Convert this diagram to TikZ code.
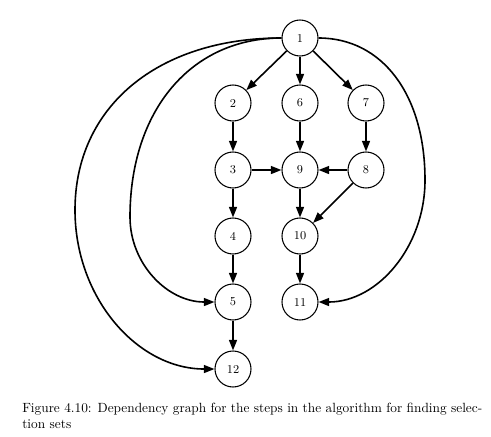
\documentclass[tikz,border=0pt]{standalone}
\usetikzlibrary{arrows.meta}
\begin{document}
\begin{tikzpicture}[x=0.75pt,y=-0.75pt,
  vertex/.style={circle,draw,line width=0.8pt,minimum size=27pt,inner sep=0pt,font=\small},
  edge/.style={line width=1.2pt,-{Triangle[length=8pt,width=6pt]}}]
\useasboundingbox (0,0) rectangle (491,436);
\node[vertex] (n1) at (300,38) {1};
\node[vertex] (n2) at (233,103) {2};
\node[vertex] (n6) at (300,103) {6};
\node[vertex] (n7) at (366,103) {7};
\node[vertex] (n3) at (233,170) {3};
\node[vertex] (n9) at (300,170) {9};
\node[vertex] (n8) at (366,170) {8};
\node[vertex] (n4) at (233,236) {4};
\node[vertex] (n10) at (300,236) {10};
\node[vertex] (n5) at (233,302) {5};
\node[vertex] (n11) at (300,302) {11};
\node[vertex] (n12) at (233,369) {12};
\draw[edge] (n1) -- (n2);
\draw[edge] (n1) -- (n6);
\draw[edge] (n1) -- (n7);
\draw[edge] (n2) -- (n3);
\draw[edge] (n6) -- (n9);
\draw[edge] (n7) -- (n8);
\draw[edge] (n3) -- (n9);
\draw[edge] (n8) -- (n9);
\draw[edge] (n3) -- (n4);
\draw[edge] (n9) -- (n10);
\draw[edge] (n8) -- (n10);
\draw[edge] (n4) -- (n5);
\draw[edge] (n10) -- (n11);
\draw[edge] (n5) -- (n12);
\coordinate (c12) at (75,210);
\coordinate (c5) at (130,217);
\coordinate (c11) at (425,180);
\draw[edge] (n1.west) .. controls +(-124,0) and +(0,-103) .. (c12)
  .. controls +(0,88) and +(-77,0) .. (n12.west);
\draw[edge] (n1.west) .. controls +(-91,0) and +(0,-106) .. (c5)
  .. controls +(0,47) and +(-47,0) .. (n5.west);
\draw[edge] (n1.east) .. controls +(64,0) and +(0,-85) .. (c11)
  .. controls +(0,67) and +(59,0) .. (n11.east);
\node[anchor=north west,inner sep=0pt,text width=345pt,align=justify] (cap) at (22,402.5)
  {Figure 4.10: Dependency graph for the steps in the algorithm for finding selec-\linebreak tion sets};
\end{tikzpicture}
\end{document}
